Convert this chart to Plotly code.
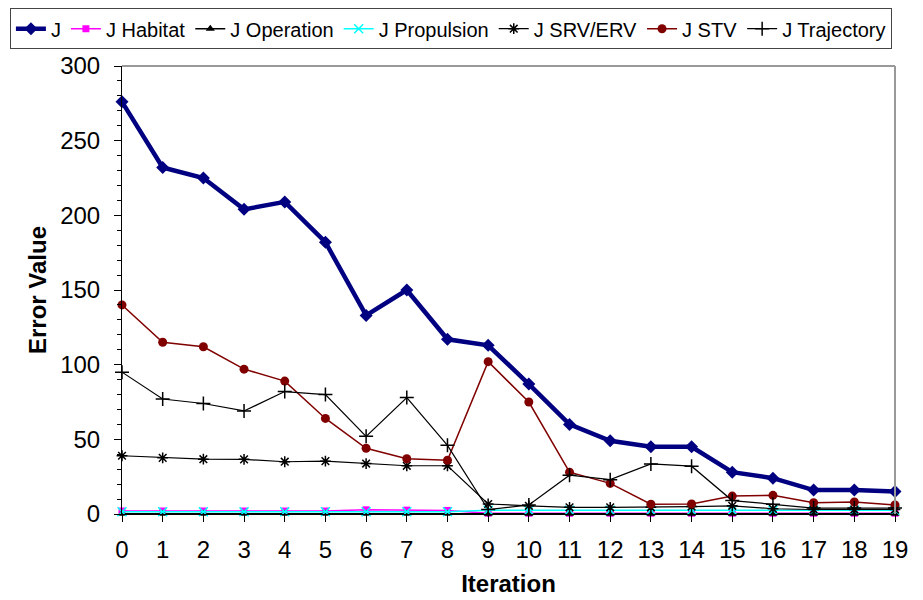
import plotly.graph_objects as go

iterations = list(range(20))
j_total = [276, 232, 225, 204, 209, 182, 133, 150, 117, 113, 87, 60, 49, 45, 45, 28, 24, 16, 16, 15]
j_habitat = [2.0, 2.0, 2.0, 2.0, 2.0, 2.0, 2.8, 2.6, 2.4, 0.5, 0.5, 0.5, 0.5, 0.5, 0.5, 0.5, 0.5, 0.5, 0.5, 0.5]
j_operation = [0.2] * 20
j_propulsion = [1.5, 1.5, 1.5, 1.5, 1.5, 1.5, 1.5, 1.5, 1.5, 2.5, 2.5, 2.5, 2.5, 2.5, 2.5, 2.5, 2.5, 2.5, 2.5, 2.5]
j_srv = [39, 37.6, 36.7, 36.6, 35, 35.4, 33.8, 32.3, 32.3, 6.7, 5.5, 4.5, 4.5, 4.5, 5, 5.5, 3.5, 3, 3, 3]
j_stv = [140, 115, 112, 97, 89, 64, 44, 37, 36, 102, 75, 28, 20.5, 6.5, 6.7, 12, 12.5, 7.5, 8, 6]
j_traj = [95, 77, 74, 69, 82, 80, 52, 78, 46, 3, 6, 26, 23, 33.5, 32, 9, 6.5, 4, 4, 4]

series = [
    ("J", j_total, "#000080", 4.5, "diamond", 10, None),
    ("J Habitat", j_habitat, "#FF00FF", 1.5, "square", 7, None),
    ("J Operation", j_operation, "#000000", 1.5, "triangle-up", 8, None),
    ("J Propulsion", j_propulsion, "#00FFFF", 1.5, "x-thin", 9, "#00FFFF"),
    ("J SRV/ERV", j_srv, "#000000", 1.2, "asterisk", 9, "#000000"),
    ("J STV", j_stv, "#800000", 1.5, "circle", 9, None),
    ("J Trajectory", j_traj, "#000000", 1.2, "cross-thin", 10, "#000000"),
]

fig = go.Figure()
for name, vals, color, lw, sym, ms, mline in series:
    marker = dict(symbol=sym, size=ms, color=color)
    if mline:
        marker["line"] = dict(color=mline, width=1.5)
    fig.add_trace(go.Scatter(
        x=iterations, y=vals, name=name, mode="lines+markers",
        line=dict(color=color, width=lw), marker=marker, cliponaxis=False,
    ))

fig.data = fig.data[1:] + fig.data[:1]
order = ["J", "J Habitat", "J Operation", "J Propulsion", "J SRV/ERV", "J STV", "J Trajectory"]
for tr in fig.data:
    tr.legendrank = order.index(tr.name)

fig.update_layout(
    width=923, height=600,
    margin=dict(l=114, r=36, t=58, b=94, autoexpand=False),
    paper_bgcolor="white", plot_bgcolor="white",
    font=dict(family="Liberation Sans, Arial, sans-serif", size=24, color="black"),
    showlegend=True,
    legend=dict(
        orientation="h", x=-0.145, xanchor="left", y=1.129, yanchor="top",
        bordercolor="#444444", borderwidth=1, font=dict(size=20),
        traceorder="normal", itemwidth=30, tracegroupgap=0,
    ),
    xaxis=dict(
        range=[0, 19], tickmode="array", tickvals=iterations,
        ticktext=[str(i) for i in iterations],
        ticks="outside", ticklen=7, tickcolor="black",
        showline=True, linecolor="black", linewidth=1,
        showgrid=False, zeroline=False, automargin=False,
        ticklabelstandoff=7,
        title=dict(text="<b>Iteration</b>", font=dict(size=24), standoff=13),
    ),
    yaxis=dict(
        range=[0, 300], dtick=50, ticks="outside", ticklen=7, tickcolor="black",
        minor=dict(dtick=10, ticks="outside", ticklen=4, tickcolor="black"),
        showline=True, linecolor="black", linewidth=1,
        showgrid=False, zeroline=False, automargin=False,
        ticklabelstandoff=9,
        title=dict(text="<b>Error Value</b>", font=dict(size=24), standoff=6),
    ),
    shapes=[
        dict(type="line", xref="paper", yref="paper", x0=0, x1=1, y0=1, y1=1,
             line=dict(color="#999999", width=2)),
        dict(type="line", xref="paper", yref="paper", x0=1, x1=1, y0=0, y1=1,
             line=dict(color="#999999", width=2)),
    ],
)

fig.write_html("out.html")
